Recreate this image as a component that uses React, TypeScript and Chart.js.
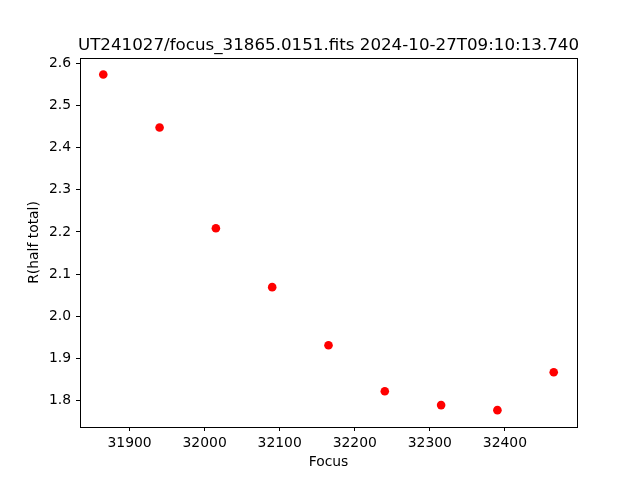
import React, { useEffect, useRef } from "react";
import { Chart, registerables } from "chart.js";

Chart.register(...registerables);

const focusValues = [31865, 31940, 32015, 32090, 32165, 32240, 32315, 32390, 32465];
const radiusValues = [2.574, 2.448, 2.209, 2.069, 1.931, 1.822, 1.789, 1.777, 1.867];
const xTicks = [31900, 32000, 32100, 32200, 32300, 32400];
const yTicks = [1.8, 1.9, 2.0, 2.1, 2.2, 2.3, 2.4, 2.5, 2.6];
const titleText = "UT241027/focus_31865.0151.fits 2024-10-27T09:10:13.740";
const xLabel = "Focus";
const yLabel = "R(half total)";

const FONT = "'DejaVu Sans', sans-serif";

const frameAndTitle = {
  id: "frameAndTitle",
  afterDraw(chart: any) {
    const { ctx, chartArea } = chart;
    ctx.save();
    ctx.strokeStyle = "#000";
    ctx.lineWidth = 1;
    ctx.strokeRect(
      Math.round(chartArea.left) + 0.5,
      Math.round(chartArea.top) + 0.5,
      Math.round(chartArea.right - chartArea.left),
      Math.round(chartArea.bottom - chartArea.top)
    );
    ctx.fillStyle = "#000";
    ctx.font = `16.7px ${FONT}`;
    ctx.textAlign = "center";
    ctx.textBaseline = "alphabetic";
    ctx.fillText(titleText, (chartArea.left + chartArea.right) / 2, 49.5);
    ctx.restore();
  },
};

export default function App() {
  const ref = useRef<HTMLCanvasElement | null>(null);
  useEffect(() => {
    if (!ref.current) return;
    const chart = new Chart(ref.current, {
      type: "scatter",
      data: {
        datasets: [
          {
            data: focusValues.map((x, i) => ({ x, y: radiusValues[i] })),
            backgroundColor: "#ff0000",
            borderColor: "#ff0000",
            borderWidth: 0,
            pointRadius: 4.3,
          },
        ],
      },
      options: {
        responsive: false,
        animation: false,
        layout: { padding: { top: 58, right: 63, bottom: 0, left: 0 } },
        plugins: { legend: { display: false }, tooltip: { enabled: false }, title: { display: false } },
        scales: {
          x: {
            type: "linear",
            min: 31834,
            max: 32496,
            afterFit: (s: any) => { s.height = 53; },
            afterBuildTicks: (s: any) => { s.ticks = xTicks.map((v) => ({ value: v })); },
            grid: { drawOnChartArea: false, drawTicks: true, tickLength: 4, color: "#000", lineWidth: 1 },
            border: { display: false },
            ticks: { color: "#000", font: { family: FONT, size: 13.9 }, padding: 4, maxRotation: 0, autoSkip: false, callback: (v: any) => String(v) },
            title: { display: true, text: xLabel, color: "#000", font: { family: FONT, size: 13.9 }, padding: { top: 0, bottom: 9.6 } },
          },
          y: {
            type: "linear",
            min: 1.737,
            max: 2.613,
            afterFit: (s: any) => { s.width = 80; },
            afterBuildTicks: (s: any) => { s.ticks = yTicks.map((v) => ({ value: v })); },
            grid: { drawOnChartArea: false, drawTicks: true, tickLength: 4, color: "#000", lineWidth: 1 },
            border: { display: false },
            ticks: { color: "#000", font: { family: FONT, size: 13.9 }, padding: 5, autoSkip: false, callback: (v: any) => Number(v).toFixed(1) },
            title: { display: true, text: yLabel, color: "#000", font: { family: FONT, size: 13.9 }, padding: { top: 25.6, bottom: 0 } },
          },
        },
      } as any,
      plugins: [frameAndTitle],
    });
    return () => chart.destroy();
  }, []);
  return (
    <div style={{ position: "fixed", left: 0, top: 0, width: 640, height: 480, background: "#fff" }}>
      <canvas ref={ref} width={640} height={480} style={{ width: 640, height: 480, display: "block" }} />
    </div>
  );
}
